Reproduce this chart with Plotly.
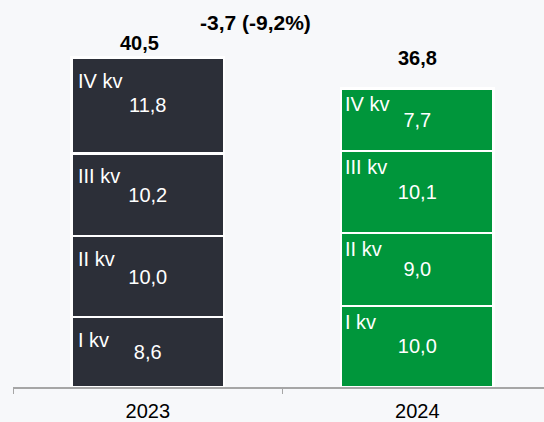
import plotly.graph_objects as go

years = ["2023", "2024"]
quarters = ["I kv", "II kv", "III kv", "IV kv"]
values_2023 = [8.6, 10.0, 10.2, 11.8]
values_2024 = [10.0, 9.0, 10.1, 7.7]
value_labels_2023 = ["8,6", "10,0", "10,2", "11,8"]
value_labels_2024 = ["10,0", "9,0", "10,1", "7,7"]
totals = [40.5, 36.8]
total_labels = ["40,5", "36,8"]
change_label = "-3,7 (-9,2%)"

colors = ["#2c2f38", "#00963b"]
FONT = "Liberation Sans, Arial, sans-serif"

series = [values_2023, values_2024]
series_text = [value_labels_2023, value_labels_2024]

fig = go.Figure()
for qi, q in enumerate(quarters):
    fig.add_trace(go.Bar(
        x=years,
        y=[series[0][qi], series[1][qi]],
        text=[series_text[0][qi], series_text[1][qi]],
        textposition="inside",
        insidetextanchor="middle",
        textangle=0,
        textfont=dict(color="white", size=20, family=FONT),
        marker=dict(color=colors, line=dict(color="white", width=2.5)),
        width=0.566,
        showlegend=False,
        hoverinfo="skip",
        name=q,
    ))

annotations = []
label_offsets = [23, 16]
label_xshift = [-72, -74]
for bi, yr in enumerate(years):
    cum = 0
    for qi, q in enumerate(quarters):
        cum += series[bi][qi]
        annotations.append(dict(
            x=bi, y=cum, xref="x", yref="y", text=q, showarrow=False,
            xanchor="left", yanchor="middle", xshift=label_xshift[bi],
            yshift=-label_offsets[bi],
            font=dict(color="white", size=20, family=FONT),
        ))

total_yshift = [15, 30]
total_xshift = [-8, 0]
for bi, yr in enumerate(years):
    top = sum(series[bi])
    annotations.append(dict(
        x=bi, y=top, xref="x", yref="y", text="<b>%s</b>" % total_labels[bi],
        showarrow=False, xanchor="center", yanchor="middle",
        yshift=total_yshift[bi], xshift=total_xshift[bi],
        font=dict(color="black", size=20, family=FONT),
    ))

annotations.append(dict(
    x=0.4566, y=0.943, xref="paper", yref="paper", text="<b>%s</b>" % change_label,
    showarrow=False, xanchor="center", yanchor="middle",
    font=dict(color="black", size=21, family=FONT),
))

fig.update_layout(
    barmode="stack",
    width=544, height=422,
    margin=dict(l=13, r=0, t=0, b=35),
    paper_bgcolor="#f7f8fa",
    plot_bgcolor="#f7f8fa",
    annotations=annotations,
    xaxis=dict(
        type="category", range=[-0.5, 1.47],
        showline=True, linecolor="#a6a6a6", linewidth=1.5,
        ticks="outside", tickson="boundaries", ticklen=5, tickcolor="#a6a6a6",
        ticklabelstandoff=5,
        tickfont=dict(color="black", size=20, family=FONT),
        showgrid=False, zeroline=False, automargin=False,
    ),
    yaxis=dict(visible=False, range=[0, 47.7], showgrid=False, zeroline=False),
)

fig.write_html("out.html", config={"displayModeBar": False},
               post_script="document.body.style.margin='0';")
